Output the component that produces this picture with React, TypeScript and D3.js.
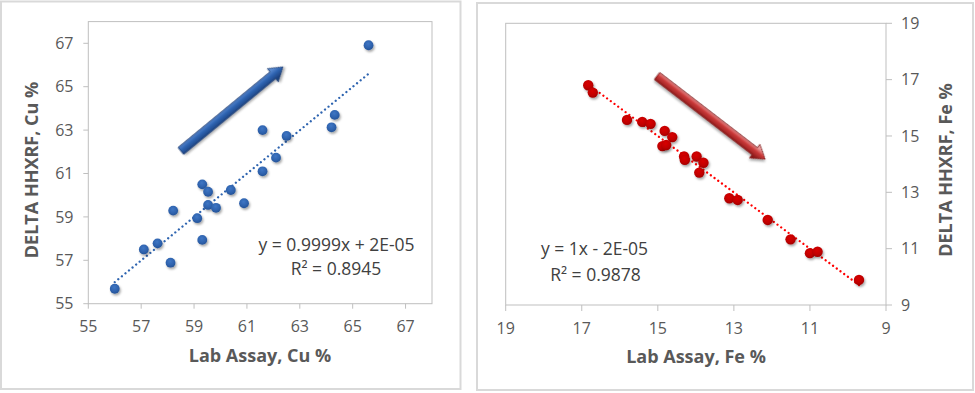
import React from "react";
import * as d3 from "d3";

// ---- Data ----
const cuLab = [56.0, 57.1, 57.62, 58.11, 58.21, 59.12, 59.31, 59.31, 59.53, 59.53, 59.83, 60.39, 60.89, 61.59, 61.59, 62.1, 62.5, 64.2, 64.32, 65.6];
const cuXrf = [55.69, 57.5, 57.78, 56.89, 59.29, 58.94, 60.5, 57.94, 60.16, 59.55, 59.42, 60.24, 59.63, 63.0, 61.1, 61.73, 62.73, 63.13, 63.7, 66.91];
const cuTicks = [55, 57, 59, 61, 63, 65, 67];
const cuFit = { slope: 0.9999, intercept: 0.00002 };
const cuEquation = ["y = 0.9999x + 2E-05", "R² = 0.8945"];
const cuArrow = [[58.5, 62.04], [62.36, 65.91]];

const feLab = [16.83, 16.71, 15.81, 15.41, 15.19, 14.82, 14.62, 14.88, 14.78, 14.31, 14.29, 13.98, 13.8, 13.91, 13.12, 12.9, 12.11, 11.51, 11.0, 10.8, 9.71];
const feXrf = [16.8, 16.54, 15.57, 15.5, 15.43, 15.18, 14.96, 14.64, 14.68, 14.27, 14.15, 14.27, 14.05, 13.7, 12.79, 12.73, 12.02, 11.33, 10.84, 10.89, 9.89];
const feTicks = [9, 11, 13, 15, 17, 19];
const feFit = { slope: 1, intercept: -0.00002 };
const feEquation = ["y = 1x - 2E-05", "R² = 0.9878"];
const feArrow = [[15.02, 17.13], [12.18, 14.18]];

const FONT = "'Open Sans', 'DejaVu Sans', sans-serif";
const TXT = "#595959";
const GRID = "#bfbfbf";

function Arrow({ x1, y1, x2, y2, gid, stroke }: any) {
  const dx = x2 - x1, dy = y2 - y1;
  const len = Math.hypot(dx, dy);
  const ang = (Math.atan2(dy, dx) * 180) / Math.PI;
  const sw = 4.3, hw = 8.5, hl = 13;
  const p = [
    [0, -sw], [len - hl, -sw], [len - hl, -hw], [len, 0], [len - hl, hw], [len - hl, sw], [0, sw],
  ];
  return (
    <g transform={`translate(${x1},${y1}) rotate(${ang})`} filter="url(#shadow)">
      <path d={d3.line()(p as any) + "Z"} fill={`url(#${gid})`} stroke={stroke} strokeWidth={0.8} strokeLinejoin="round" />
    </g>
  );
}

function LeftChart() {
  const x = d3.scaleLinear().domain([55, 68]).range([88.3, 432]);
  const y = d3.scaleLinear().domain([55, 68]).range([303.7, 21.6]);
  const [xa, xb] = d3.extent(cuLab) as number[];
  const trend = d3.line()([
    [x(xa), y(cuFit.slope * xa + cuFit.intercept)],
    [x(xb), y(cuFit.slope * xb + cuFit.intercept)],
  ]);
  return (
    <g>
      <rect x={1} y={1.5} width={459.5} height={387.5} fill="#fff" stroke="#d9d9d9" strokeWidth={2} />
      <rect x={x(55)} y={y(68)} width={x(68) - x(55)} height={y(55) - y(68)} fill="none" stroke={GRID} strokeWidth={1} />
      {cuTicks.map((t) => (
        <g key={"y" + t}>
          <line x1={x(55) - 5} x2={x(55)} y1={y(t)} y2={y(t)} stroke={GRID} />
          <text x={73.5} y={y(t)} dy="0.36em" textAnchor="end" fontSize={16} fill={TXT} fontFamily={FONT}>{t}</text>
        </g>
      ))}
      {cuTicks.map((t) => (
        <g key={"x" + t}>
          <line x1={x(t)} x2={x(t)} y1={y(55)} y2={y(55) + 5} stroke={GRID} />
          <text x={x(t)} y={326} dy="0.36em" textAnchor="middle" fontSize={16} fill={TXT} fontFamily={FONT}>{t}</text>
        </g>
      ))}
      <path d={trend as string} stroke="#2e64b0" strokeWidth={2.3} strokeDasharray="0.01 4.6" strokeLinecap="round" fill="none" />
      {cuLab.map((v, i) => (
        <circle key={i} cx={x(v)} cy={y(cuXrf[i])} r={4.9} fill="url(#blueDot)" filter="url(#shadow)" />
      ))}
      <Arrow x1={x(cuArrow[0][0])} y1={y(cuArrow[0][1])} x2={x(cuArrow[1][0])} y2={y(cuArrow[1][1])} gid="blueArrow" stroke="#1a3a6e" />
      <text x={336.5} y={250.5} textAnchor="middle" fontSize={17.5} fill="#404040" fontFamily={FONT}>{cuEquation[0]}</text>
      <text x={336} y={275} textAnchor="middle" fontSize={17.5} fill="#404040" fontFamily={FONT}>{cuEquation[1]}</text>
      <text x={260} y={361.5} textAnchor="middle" fontSize={18} fontWeight="bold" fill={TXT} fontFamily={FONT}>Lab Assay, Cu %</text>
      <text transform="translate(37.5,170) rotate(-90)" textAnchor="middle" fontSize={18} fontWeight="bold" fill={TXT} fontFamily={FONT}>DELTA HHXRF, Cu %</text>
    </g>
  );
}

function RightChart() {
  const x = d3.scaleLinear().domain([19, 9]).range([505.7, 886]);
  const y = d3.scaleLinear().domain([9, 19]).range([305, 23.3]);
  const [xa, xb] = d3.extent(feLab) as number[];
  const trend = d3.line()([
    [x(xa), y(feFit.slope * xa + feFit.intercept)],
    [x(xb), y(feFit.slope * xb + feFit.intercept)],
  ]);
  return (
    <g>
      <rect x={477} y={3} width={496} height={387} fill="#fff" stroke="#d9d9d9" strokeWidth={2} />
      <rect x={x(19)} y={y(19)} width={x(9) - x(19)} height={y(9) - y(19)} fill="none" stroke={GRID} strokeWidth={1} />
      {feTicks.map((t) => (
        <g key={"y" + t}>
          <line x1={x(9)} x2={x(9) + 6} y1={y(t)} y2={y(t)} stroke={GRID} />
          <text x={901} y={y(t)} dy="0.36em" textAnchor="start" fontSize={16} fill={TXT} fontFamily={FONT}>{t}</text>
        </g>
      ))}
      {feTicks.map((t) => (
        <g key={"x" + t}>
          <line x1={x(t)} x2={x(t)} y1={y(9)} y2={y(9) + 6} stroke={GRID} />
          <text x={x(t)} y={328} dy="0.36em" textAnchor="middle" fontSize={16} fill={TXT} fontFamily={FONT}>{t}</text>
        </g>
      ))}
      <path d={trend as string} stroke="#ff0000" strokeWidth={2.3} strokeDasharray="0.01 4.6" strokeLinecap="round" fill="none" />
      {feLab.map((v, i) => (
        <circle key={i} cx={x(v)} cy={y(feXrf[i])} r={5.2} fill="url(#redDot)" filter="url(#shadow)" />
      ))}
      <Arrow x1={x(feArrow[0][0])} y1={y(feArrow[0][1])} x2={x(feArrow[1][0])} y2={y(feArrow[1][1])} gid="redArrow" stroke="#7a1414" />
      <text x={594.5} y={255} textAnchor="middle" fontSize={17.5} fill="#404040" fontFamily={FONT}>{feEquation[0]}</text>
      <text x={595.5} y={280.5} textAnchor="middle" fontSize={17.5} fill="#404040" fontFamily={FONT}>{feEquation[1]}</text>
      <text x={696} y={362.5} textAnchor="middle" fontSize={18} fontWeight="bold" fill={TXT} fontFamily={FONT}>Lab Assay, Fe %</text>
      <text transform="translate(952,170) rotate(-90)" textAnchor="middle" fontSize={18} fontWeight="bold" fill={TXT} fontFamily={FONT}>DELTA HHXRF, Fe %</text>
    </g>
  );
}

export default function App() {
  return (
    <svg width={975} height={393} style={{ position: "absolute", left: 0, top: 0, background: "#fff" }}>
      <defs>
        <filter id="shadow" x="-50%" y="-50%" width="200%" height="200%">
          <feDropShadow dx={1.2} dy={1.8} stdDeviation={1.3} floodColor="#000" floodOpacity={0.35} />
        </filter>
        <radialGradient id="blueDot" cx="0.45" cy="0.35" r="0.7">
          <stop offset="0" stopColor="#3f76c4" />
          <stop offset="0.6" stopColor="#2e62ad" />
          <stop offset="1" stopColor="#234f92" />
        </radialGradient>
        <radialGradient id="redDot" cx="0.45" cy="0.35" r="0.7">
          <stop offset="0" stopColor="#d80000" />
          <stop offset="0.6" stopColor="#c00000" />
          <stop offset="1" stopColor="#9a0000" />
        </radialGradient>
        <linearGradient id="blueArrow" gradientUnits="userSpaceOnUse" x1={0} y1={-5} x2={0} y2={5}>
          <stop offset="0" stopColor="#5a8ad0" />
          <stop offset="0.45" stopColor="#2f63b0" />
          <stop offset="1" stopColor="#1c427f" />
        </linearGradient>
        <linearGradient id="redArrow" gradientUnits="userSpaceOnUse" x1={0} y1={-5} x2={0} y2={5}>
          <stop offset="0" stopColor="#eea0a0" />
          <stop offset="0.4" stopColor="#cc3c3c" />
          <stop offset="1" stopColor="#8c1818" />
        </linearGradient>
      </defs>
      <LeftChart />
      <RightChart />
    </svg>
  );
}
